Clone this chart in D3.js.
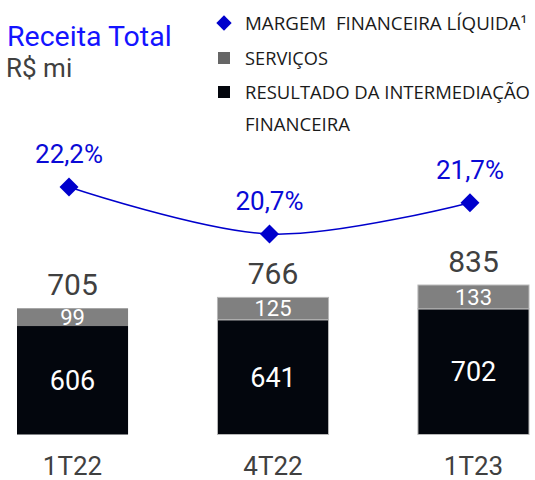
<!DOCTYPE html>
<html>
<head>
<meta charset="utf-8">
<script src="https://cdn.jsdelivr.net/npm/d3@7"></script>
<style>
body{margin:0;background:#fff;}
svg{display:block;font-family:Roboto,"Noto Sans",sans-serif;}
</style>
</head>
<body>
<svg class="chart"></svg>
<script>
var categories=["1T22","4T22","1T23"];
var intermediacao=[606,641,702];
var servicos=[99,125,133];
var totais=[705,766,835];
var margem=[22.2,20.7,21.7];
var margemLabels=["22,2%","20,7%","21,7%"];
var legendLabels=["MARGEM  FINANCEIRA LÍQUIDA¹","SERVIÇOS","RESULTADO DA INTERMEDIAÇÃO","FINANCEIRA"];

var screen={width:535,height:480};
var svg=d3.select("svg.chart")
          .attr("width",screen.width)
          .attr("height",screen.height);

var blue="#0000cc";
var black="#03060d";
var gray="#808080";
var textGray="#404040";

var xscale=d3.scaleBand()
             .domain(categories)
             .range([17,529])
             .paddingInner(0.446)
             .paddingOuter(0);
var yscale=d3.scaleLinear()
             .domain([0,1000])
             .range([434.5,255.5]);
var mscale=d3.scaleLinear()
             .domain([20.7,22.2])
             .range([234,187]);

var rows=categories.map(function(c,i){
  return {cat:c,base:intermediacao[i],serv:servicos[i],total:totais[i],m:margem[i],mLabel:margemLabels[i]};
});

// title
svg.append("text")
   .attr("x",7)
   .attr("y",46)
   .attr("fill","#1414ff")
   .style("font-size","28.5px")
   .text("Receita Total");
svg.append("text")
   .attr("x",6)
   .attr("y",77)
   .attr("fill",textGray)
   .style("font-size","26px")
   .text("R$ mi");

// legend
var legend=svg.append("g").attr("class","legend");
var legendY=[30,65,99,131];
var legendW=[282,83,285,105];
legend.append("path")
      .attr("d",d3.symbol().type(d3.symbolDiamond2).size(150)())
      .attr("transform","translate(224,23)")
      .attr("fill",blue);
legend.append("rect")
      .attr("x",218).attr("y",52).attr("width",12).attr("height",12)
      .attr("fill","#666666");
legend.append("rect")
      .attr("x",218).attr("y",86).attr("width",12).attr("height",12)
      .attr("fill",black);
legend.selectAll("text")
      .data(legendLabels)
      .enter()
      .append("text")
      .attr("x",245)
      .attr("y",function(d,i){return legendY[i];})
      .attr("textLength",function(d,i){return legendW[i];})
      .attr("lengthAdjust","spacingAndGlyphs")
      .attr("fill","#1a1a1a")
      .style("white-space","pre")
      .style("font-family","'Open Sans',sans-serif")
      .style("font-size","18px")
      .text(function(d){return d;});

// bars
var bars=svg.append("g").attr("class","bars");
var bar=bars.selectAll("g")
            .data(rows)
            .enter()
            .append("g");
bar.append("rect")
   .attr("x",function(d){return xscale(d.cat);})
   .attr("width",xscale.bandwidth())
   .attr("y",function(d){return yscale(d.base);})
   .attr("height",function(d){return yscale(0)-yscale(d.base);})
   .attr("fill",black)
   .attr("stroke",function(d,i){return i>0?"#b8b8b8":"none";})
   .attr("stroke-width",1);
bar.append("rect")
   .attr("x",function(d){return xscale(d.cat);})
   .attr("width",xscale.bandwidth())
   .attr("y",function(d){return yscale(d.base+d.serv);})
   .attr("height",function(d){return yscale(d.base)-yscale(d.base+d.serv);})
   .attr("fill",gray)
   .attr("stroke",function(d,i){return i>0?"#b8b8b8":"none";})
   .attr("stroke-width",1);
bar.append("text")
   .attr("x",function(d){return xscale(d.cat)+xscale.bandwidth()/2;})
   .attr("y",function(d){return (yscale(0)+yscale(d.base))/2+0.355*27;})
   .attr("text-anchor","middle")
   .attr("fill","#fff")
   .style("font-size","27px")
   .text(function(d){return d.base;});
bar.append("text")
   .attr("x",function(d){return xscale(d.cat)+xscale.bandwidth()/2;})
   .attr("y",function(d){return (yscale(d.base)+yscale(d.base+d.serv))/2+0.355*22;})
   .attr("text-anchor","middle")
   .attr("fill","#fff")
   .style("font-size","22px")
   .text(function(d){return d.serv;});
bar.append("text")
   .attr("x",function(d){return xscale(d.cat)+xscale.bandwidth()/2;})
   .attr("y",function(d){return yscale(d.total)-13;})
   .attr("text-anchor","middle")
   .attr("fill",textGray)
   .style("font-size","30px")
   .text(function(d){return d.total;});

// category labels
svg.append("g")
   .selectAll("text")
   .data(categories)
   .enter()
   .append("text")
   .attr("x",function(d){return xscale(d)+xscale.bandwidth()/2;})
   .attr("y",475)
   .attr("text-anchor","middle")
   .attr("fill",textGray)
   .style("font-size","26px")
   .text(function(d){return d;});

// margin line
var mx=function(d){return xscale(d.cat)+xscale.bandwidth()/2-3.5;};
var line=d3.line()
           .x(mx)
           .y(function(d){return mscale(d.m);})
           .curve(d3.curveCardinal.tension(0));
var lineG=svg.append("g").attr("class","margem");
lineG.append("path")
     .datum(rows)
     .attr("d",line)
     .attr("fill","none")
     .attr("stroke",blue)
     .attr("stroke-width",1.5);
lineG.selectAll("path.pt")
     .data(rows)
     .enter()
     .append("path")
     .attr("class","pt")
     .attr("d",d3.symbol().type(d3.symbolDiamond2).size(230)())
     .attr("transform",function(d){return "translate("+mx(d)+","+mscale(d.m)+")";})
     .attr("fill",blue);
lineG.selectAll("text")
     .data(rows)
     .enter()
     .append("text")
     .attr("x",mx)
     .attr("y",function(d){return mscale(d.m)-24;})
     .attr("text-anchor","middle")
     .attr("fill","#0a0ad6")
     .style("font-size","26px")
     .text(function(d){return d.mLabel;});
</script>
</body>
</html>
